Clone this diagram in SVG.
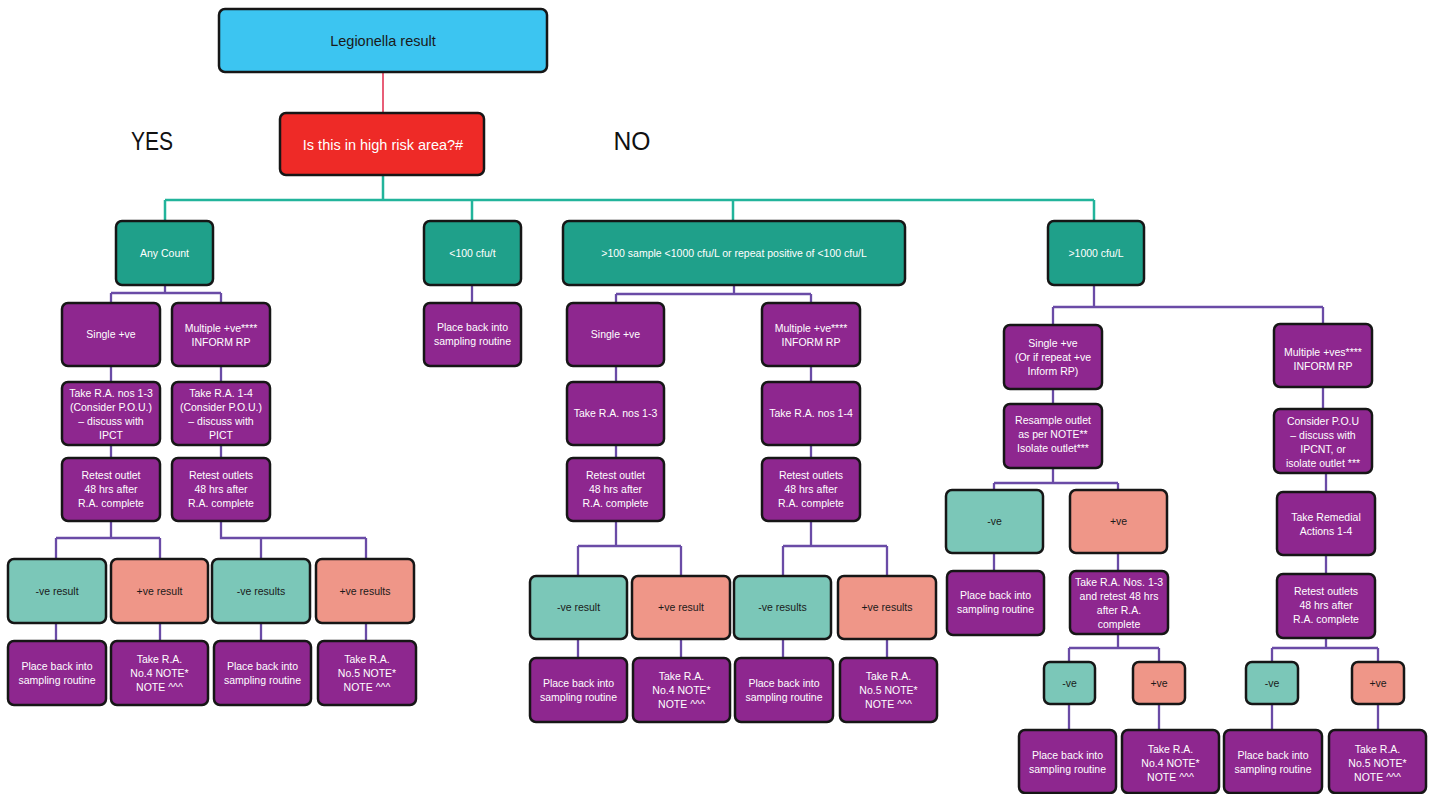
<svg xmlns="http://www.w3.org/2000/svg" width="1435" height="794" viewBox="0 0 1435 794">
<style>
rect{stroke:#161616;stroke-width:2.5}
.blue{fill:#3cc5f1}
.red{fill:#ee2a27}
.dt{fill:#1fa08a}
.pu{fill:#8e278f}
.lt{fill:#7bc7b8}
.sa{fill:#ef9688}
text{font-family:"Liberation Sans",Arial,sans-serif;font-size:10.5px;text-anchor:middle}
.w{fill:#ffffff}
.k{fill:#1a1a1a}
.big{font-size:14.5px}
.yn{font-size:26px;fill:#111}
.cp{fill:none;stroke:#6a4ba6;stroke-width:2.3}
.ct{fill:none;stroke:#22b49b;stroke-width:2.5}
.cr{fill:none;stroke:#e0284a;stroke-width:1.5}
</style>
<g id="connectors">
<path class="cr" d="M383 72V113"/>
<path class="ct" d="M383 175V200M165 200H1094M165 200V221M472 200V221M733 200V221M1094 200V221"/>
<path class="cp" d="M165 285V293M111 293H221M111 293V303M221 293V303M111 366V382M111 445V458M221 366V382M221 445V458M111 521V538M56 538H160M56 538V559M160 538V559M221 521V538H366M261 538V559M366 538V559M56 623V641M160 623V641M261 623V641M366 623V641"/>
<path class="cp" d="M472 285V303"/>
<path class="cp" d="M734 285V294M616 294H811M616 294V303M811 294V303M616 366V382M616 445V458M811 366V382M811 445V458M616 521V546M578 546H681M578 546V576M681 546V576M811 521V546M783 546H887M783 546V576M887 546V576M578 639V658M681 639V658M783 639V658M887 639V658"/>
<path class="cp" d="M1094 285V307M1053 307H1323M1053 307V325M1323 307V324M1053 389V404M1323 387V409M1053 468V483M994 483H1118M994 483V490M1118 483V490M1326 473V492M994 553V571M1118 553V571M1326 555V574M1118 634V648M1069 648H1159M1069 648V662M1159 648V662M1326 638V648M1272 648H1378M1272 648V662M1378 648V662M1069 704V730M1159 704V730M1272 704V730M1378 704V730"/>
</g>
<g id="labels">
<text class="yn" x="152" y="150" textLength="42" lengthAdjust="spacingAndGlyphs">YES</text>
<text class="yn" x="632" y="150" textLength="37" lengthAdjust="spacingAndGlyphs">NO</text>
</g>
<g id="n_top"><rect class="blue" x="219" y="9" width="328" height="63" rx="6"/><text class="k big" x="383" y="46">Legionella result</text></g>
<g id="n_risk"><rect class="red" x="280" y="113" width="204" height="62" rx="6"/><text class="w big" x="383" y="150">Is this in high risk area?#</text></g>
<g id="n_any"><rect class="dt" x="116" y="221" width="97" height="64" rx="6"/><text class="w" x="164.5" y="257">Any Count</text></g>
<g id="n_lt100"><rect class="dt" x="424" y="221" width="97" height="64" rx="6"/><text class="w" x="472.5" y="257">&lt;100 cfu/t</text></g>
<g id="n_mid"><rect class="dt" x="563" y="221" width="342" height="64" rx="6"/><text class="w" x="734" y="257">&gt;100 sample &lt;1000 cfu/L or repeat positive of &lt;100 cfu/L</text></g>
<g id="n_gt1000"><rect class="dt" x="1048" y="221" width="96" height="64" rx="6"/><text class="w" x="1096" y="257">&gt;1000 cfu/L</text></g>

<g id="n_l_single"><rect class="pu" x="62" y="303" width="98" height="63" rx="6"/><text class="w" x="111" y="338">Single +ve</text></g>
<g id="n_l_multi"><rect class="pu" x="172" y="303" width="98" height="63" rx="6"/><text class="w" x="221" y="332">Multiple +ve****<tspan x="221" dy="14">INFORM RP</tspan></text></g>
<g id="n_l_ra1"><rect class="pu" x="62" y="382" width="98" height="63" rx="6"/><text class="w" x="111" y="397">Take R.A. nos 1-3<tspan x="111" dy="14">(Consider P.O.U.)</tspan><tspan x="111" dy="14">– discuss with</tspan><tspan x="111" dy="14">IPCT</tspan></text></g>
<g id="n_l_ra2"><rect class="pu" x="172" y="382" width="98" height="63" rx="6"/><text class="w" x="221" y="397">Take R.A. 1-4<tspan x="221" dy="14">(Consider P.O.U.)</tspan><tspan x="221" dy="14">– discuss with</tspan><tspan x="221" dy="14">PICT</tspan></text></g>
<g id="n_l_rt1"><rect class="pu" x="62" y="458" width="98" height="63" rx="6"/><text class="w" x="111" y="479">Retest outlet<tspan x="111" dy="14">48 hrs after</tspan><tspan x="111" dy="14">R.A. complete</tspan></text></g>
<g id="n_l_rt2"><rect class="pu" x="172" y="458" width="98" height="63" rx="6"/><text class="w" x="221" y="479">Retest outlets<tspan x="221" dy="14">48 hrs after</tspan><tspan x="221" dy="14">R.A. complete</tspan></text></g>
<g id="n_l_r1"><rect class="lt" x="8" y="559" width="98" height="64" rx="6"/><text class="k" x="57" y="595">-ve result</text></g>
<g id="n_l_r2"><rect class="sa" x="111" y="559" width="97" height="64" rx="6"/><text class="k" x="159.5" y="595">+ve result</text></g>
<g id="n_l_r3"><rect class="lt" x="212" y="559" width="98" height="64" rx="6"/><text class="k" x="261" y="595">-ve results</text></g>
<g id="n_l_r4"><rect class="sa" x="316" y="559" width="98" height="64" rx="6"/><text class="k" x="365" y="595">+ve results</text></g>
<g id="n_l_f1"><rect class="pu" x="8" y="641" width="98" height="64" rx="6"/><text class="w" x="57" y="670">Place back into<tspan x="57" dy="14">sampling routine</tspan></text></g>
<g id="n_l_f2"><rect class="pu" x="111" y="641" width="97" height="64" rx="6"/><text class="w" x="159.5" y="663">Take R.A.<tspan x="159.5" dy="14">No.4 NOTE*</tspan><tspan x="159.5" dy="14">NOTE ^^^</tspan></text></g>
<g id="n_l_f3"><rect class="pu" x="214" y="641" width="97" height="64" rx="6"/><text class="w" x="262.5" y="670">Place back into<tspan x="262.5" dy="14">sampling routine</tspan></text></g>
<g id="n_l_f4"><rect class="pu" x="318" y="641" width="98" height="64" rx="6"/><text class="w" x="367" y="663">Take R.A.<tspan x="367" dy="14">No.5 NOTE*</tspan><tspan x="367" dy="14">NOTE ^^^</tspan></text></g>

<g id="n_c_place"><rect class="pu" x="424" y="303" width="97" height="63" rx="6"/><text class="w" x="472.5" y="331">Place back into<tspan x="472.5" dy="14">sampling routine</tspan></text></g>

<g id="n_m_single"><rect class="pu" x="567" y="303" width="97" height="63" rx="6"/><text class="w" x="615.5" y="338">Single +ve</text></g>
<g id="n_m_multi"><rect class="pu" x="762" y="303" width="98" height="63" rx="6"/><text class="w" x="811" y="332">Multiple +ve****<tspan x="811" dy="14">INFORM RP</tspan></text></g>
<g id="n_m_ra1"><rect class="pu" x="567" y="382" width="97" height="63" rx="6"/><text class="w" x="615.5" y="417">Take R.A. nos 1-3</text></g>
<g id="n_m_ra2"><rect class="pu" x="762" y="382" width="98" height="63" rx="6"/><text class="w" x="811" y="417">Take R.A. nos 1-4</text></g>
<g id="n_m_rt1"><rect class="pu" x="567" y="458" width="97" height="63" rx="6"/><text class="w" x="615.5" y="479">Retest outlet<tspan x="615.5" dy="14">48 hrs after</tspan><tspan x="615.5" dy="14">R.A. complete</tspan></text></g>
<g id="n_m_rt2"><rect class="pu" x="762" y="458" width="98" height="63" rx="6"/><text class="w" x="811" y="479">Retest outlets<tspan x="811" dy="14">48 hrs after</tspan><tspan x="811" dy="14">R.A. complete</tspan></text></g>
<g id="n_m_r1"><rect class="lt" x="530" y="576" width="97" height="63" rx="6"/><text class="k" x="578.5" y="611">-ve result</text></g>
<g id="n_m_r2"><rect class="sa" x="632" y="576" width="98" height="63" rx="6"/><text class="k" x="681" y="611">+ve result</text></g>
<g id="n_m_r3"><rect class="lt" x="734" y="576" width="97" height="63" rx="6"/><text class="k" x="782.5" y="611">-ve results</text></g>
<g id="n_m_r4"><rect class="sa" x="838" y="576" width="98" height="63" rx="6"/><text class="k" x="887" y="611">+ve results</text></g>
<g id="n_m_f1"><rect class="pu" x="530" y="658" width="97" height="64" rx="6"/><text class="w" x="578.5" y="687">Place back into<tspan x="578.5" dy="14">sampling routine</tspan></text></g>
<g id="n_m_f2"><rect class="pu" x="633" y="658" width="97" height="64" rx="6"/><text class="w" x="681.5" y="680">Take R.A.<tspan x="681.5" dy="14">No.4 NOTE*</tspan><tspan x="681.5" dy="14">NOTE ^^^</tspan></text></g>
<g id="n_m_f3"><rect class="pu" x="735" y="658" width="98" height="64" rx="6"/><text class="w" x="784" y="687">Place back into<tspan x="784" dy="14">sampling routine</tspan></text></g>
<g id="n_m_f4"><rect class="pu" x="840" y="658" width="97" height="64" rx="6"/><text class="w" x="888.5" y="680">Take R.A.<tspan x="888.5" dy="14">No.5 NOTE*</tspan><tspan x="888.5" dy="14">NOTE ^^^</tspan></text></g>

<g id="n_r_single"><rect class="pu" x="1004" y="325" width="98" height="64" rx="6"/><text class="w" x="1053" y="347">Single +ve<tspan x="1053" dy="14">(Or if repeat +ve</tspan><tspan x="1053" dy="14">Inform RP)</tspan></text></g>
<g id="n_r_multi"><rect class="pu" x="1274" y="324" width="98" height="63" rx="6"/><text class="w" x="1323" y="356">Multiple +ves****<tspan x="1323" dy="14">INFORM RP</tspan></text></g>
<g id="n_r_resample"><rect class="pu" x="1004" y="404" width="98" height="64" rx="6"/><text class="w" x="1053" y="424">Resample outlet<tspan x="1053" dy="14">as per NOTE**</tspan><tspan x="1053" dy="14">Isolate outlet***</tspan></text></g>
<g id="n_r_consider"><rect class="pu" x="1274" y="409" width="98" height="64" rx="6"/><text class="w" x="1323" y="425">Consider P.O.U<tspan x="1323" dy="14">– discuss with</tspan><tspan x="1323" dy="14">IPCNT, or</tspan><tspan x="1323" dy="14">isolate outlet ***</tspan></text></g>
<g id="n_r_neg"><rect class="lt" x="946" y="490" width="97" height="63" rx="6"/><text class="k" x="994.5" y="525">-ve</text></g>
<g id="n_r_pos"><rect class="sa" x="1070" y="490" width="97" height="63" rx="6"/><text class="k" x="1118.5" y="525">+ve</text></g>
<g id="n_r_remedial"><rect class="pu" x="1277" y="492" width="98" height="63" rx="6"/><text class="w" x="1326" y="521">Take Remedial<tspan x="1326" dy="14">Actions 1-4</tspan></text></g>
<g id="n_r_place"><rect class="pu" x="947" y="571" width="97" height="64" rx="6"/><text class="w" x="995.5" y="599">Place back into<tspan x="995.5" dy="14">sampling routine</tspan></text></g>
<g id="n_r_ra13"><rect class="pu" x="1070" y="571" width="98" height="63" rx="6"/><text class="w" x="1119" y="586">Take R.A. Nos. 1-3<tspan x="1119" dy="14">and retest 48 hrs</tspan><tspan x="1119" dy="14">after R.A.</tspan><tspan x="1119" dy="13.5">complete</tspan></text></g>
<g id="n_r_retest"><rect class="pu" x="1277" y="574" width="98" height="64" rx="6"/><text class="w" x="1326" y="595">Retest outlets<tspan x="1326" dy="14">48 hrs after</tspan><tspan x="1326" dy="14">R.A. complete</tspan></text></g>
<g id="n_r_s1"><rect class="lt" x="1044" y="662" width="51" height="42" rx="6"/><text class="k" x="1069.5" y="687">-ve</text></g>
<g id="n_r_s2"><rect class="sa" x="1133" y="662" width="52" height="42" rx="6"/><text class="k" x="1159" y="687">+ve</text></g>
<g id="n_r_s3"><rect class="lt" x="1246" y="662" width="52" height="42" rx="6"/><text class="k" x="1272" y="687">-ve</text></g>
<g id="n_r_s4"><rect class="sa" x="1352" y="662" width="52" height="42" rx="6"/><text class="k" x="1378" y="687">+ve</text></g>
<g id="n_r_f1"><rect class="pu" x="1019" y="730" width="97" height="63" rx="6"/><text class="w" x="1067.5" y="759">Place back into<tspan x="1067.5" dy="14">sampling routine</tspan></text></g>
<g id="n_r_f2"><rect class="pu" x="1122" y="730" width="97" height="63" rx="6"/><text class="w" x="1170.5" y="753">Take R.A.<tspan x="1170.5" dy="14">No.4 NOTE*</tspan><tspan x="1170.5" dy="14">NOTE ^^^</tspan></text></g>
<g id="n_r_f3"><rect class="pu" x="1224" y="730" width="98" height="63" rx="6"/><text class="w" x="1273" y="759">Place back into<tspan x="1273" dy="14">sampling routine</tspan></text></g>
<g id="n_r_f4"><rect class="pu" x="1329" y="730" width="97" height="63" rx="6"/><text class="w" x="1377.5" y="753">Take R.A.<tspan x="1377.5" dy="14">No.5 NOTE*</tspan><tspan x="1377.5" dy="14">NOTE ^^^</tspan></text></g>
</svg>
